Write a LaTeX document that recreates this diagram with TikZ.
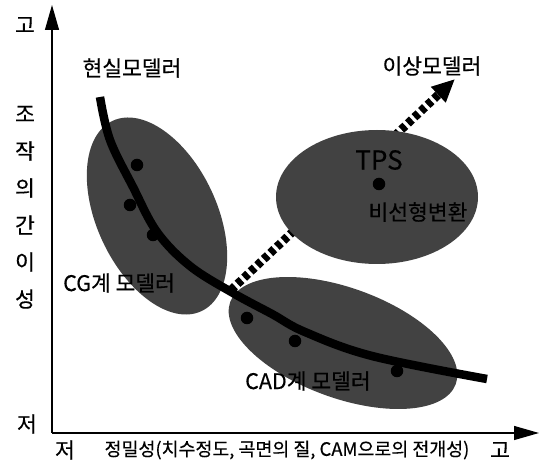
\documentclass[tikz,border=0pt]{standalone}
\usepackage{fontspec}
\setmainfont{Noto Sans CJK KR}[FakeBold=0.35]
\usepackage{tikz}
\usetikzlibrary{arrows.meta,shapes.geometric}
\definecolor{blob}{HTML}{424242}
\definecolor{bk}{HTML}{000000}
\tikzset{
  axisline/.style={draw=bk, line width=1.3pt,
    -{Triangle[length=25pt,width=14pt]}},
  blobell/.style={ellipse, fill=blob, draw=none, inner sep=0pt},
  modelcurve/.style={draw=bk, line width=8.5pt},
  idealarrow/.style={draw=bk, line width=8.5pt, dash pattern=on 5.5pt off 3.5pt,
    -{Triangle[length=23pt,width=20pt]}},
  dot/.style={circle, fill=bk, inner sep=0pt, minimum size=12.5pt},
  lbl/.style={font=\fontsize{21.5}{25}\selectfont, inner sep=0pt},
  axlbl/.style={font=\fontsize{18.4}{22}\selectfont, inner sep=0pt},
  tpslbl/.style={font=\fontsize{26}{30}\selectfont, inner sep=0pt},
}
\begin{document}
\begin{tikzpicture}[x=1pt, y=-1pt]
  \useasboundingbox (0,0) rectangle (544,462);

  % axes
  \coordinate (o) at (52,433);
  \coordinate (ytop) at (52,5);
  \coordinate (xend) at (539,433);
  \draw[axisline] (o) -- (ytop);
  \draw[axisline] (o) -- (xend);

  % way to the ideal modeler (partly hidden by the TPS blob)
  \coordinate (istart) at (231,290);
  \coordinate (iend) at (455,79);
  \draw[idealarrow] (istart) -- (iend);

  % groups
  \node[blobell, minimum width=210pt, minimum height=120pt, rotate=-65] (cg) at (157,216) {};
  \node[blobell, minimum width=202pt, minimum height=134pt] (tps) at (377,197) {};
  \node[blobell, minimum width=240pt, minimum height=110pt, rotate=-20] (cad) at (343,343) {};

  % real modeler curve
  \draw[modelcurve] plot[smooth, tension=0.6] coordinates {
    (100,97) (110,140) (133,187) (157,232) (190,266) (233,293)
    (272,314) (305,332) (372,356) (487,379)};

  \node[dot] (cg1) at (137,165) {};
  \node[dot] (cg2) at (130,205) {};
  \node[dot] (cg3) at (153,235) {};
  \node[dot] (cad1) at (247,318) {};
  \node[dot] (cad2) at (295,341) {};
  \node[dot] (cad3) at (397,371) {};
  \node[dot] (tpsdot) at (379,184) {};

  % labels
  \node[lbl] (yhi) at (25,25) {고};
  \node[lbl] (ylo) at (27,424) {저};
  \foreach \ch [count=\i from 0] in {조,작,의,간,이,성}
    \node[lbl] (yax\i) at (25,114+37*\i) {\ch};
  \node[lbl] (xlo) at (65,450) {저};
  \node[axlbl] (xax) at (287,450) {정밀성(치수정도, 곡면의 질, CAM으로의 전개성)};
  \node[lbl] (xhi) at (500,450) {고};

  \node[lbl] (real) at (132,68) {현실모델러};
  \node[lbl] (ideal) at (432,66) {이상모델러};
  \node[lbl, anchor=west] (cglbl) at (63,283) {CG계 모델러};
  \node[lbl, anchor=west] (cadlbl) at (245,381) {CAD계 모델러};
  \node[tpslbl] (tpslbl) at (379,160) {TPS};
  \node[lbl] (nonlin) at (418,212) {비선형변환};
\end{tikzpicture}
\end{document}
